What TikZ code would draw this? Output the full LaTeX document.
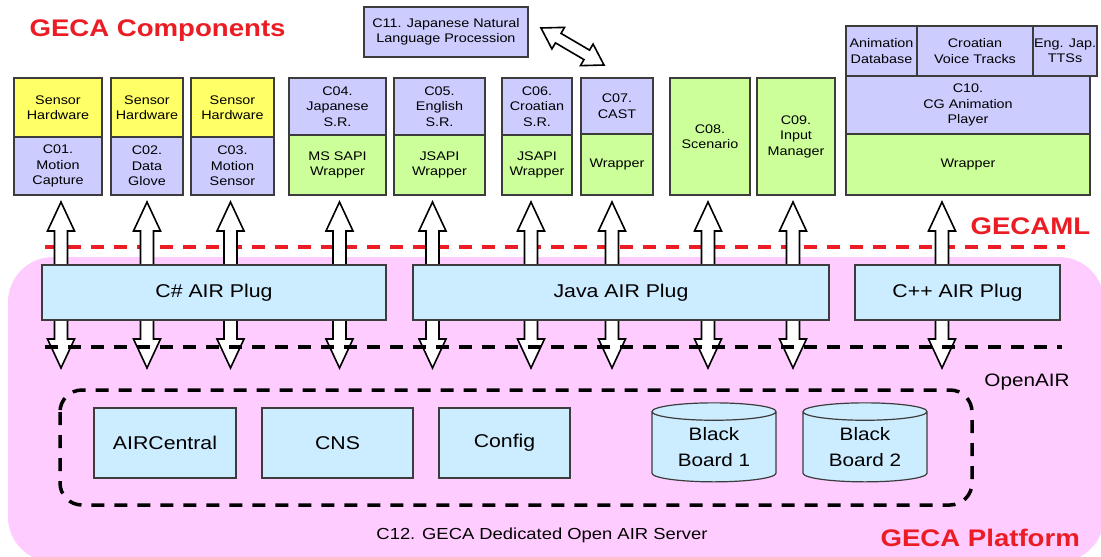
\documentclass[tikz,border=0pt]{standalone}
\usepackage{fontspec}
\setmainfont[FakeStretch=1.15]{Liberation Sans}
\usetikzlibrary{positioning,calc,shapes.geometric}

\definecolor{lavbox}{RGB}{204,204,255}
\definecolor{yelbox}{RGB}{255,255,102}
\definecolor{grnbox}{RGB}{204,255,153}
\definecolor{plugblue}{RGB}{204,236,255}
\definecolor{platpink}{RGB}{255,204,255}
\definecolor{gecared}{RGB}{235,28,36}
\definecolor{edge}{RGB}{60,60,60}

\tikzset{
  comp/.style={draw=edge, line width=1.2pt, inner sep=1pt, outer sep=0pt, align=center,
    font=\fontsize{12.5}{15.5}\selectfont},
  yel/.style={comp, fill=yelbox},
  lav/.style={comp, fill=lavbox},
  grn/.style={comp, fill=grnbox},
  plug/.style={draw=edge, line width=1.2pt, fill=plugblue, outer sep=0pt,
    font=\fontsize{18.5}{22}\selectfont},
  store/.style={cylinder, shape border rotate=90, aspect=0.24, draw=edge, line width=1.2pt,
    fill=plugblue, align=center, inner sep=0pt, font=\fontsize{18}{26}\selectfont},
  heading/.style={text=gecared, font=\fontsize{24}{28}\selectfont\bfseries},
  % hollow block arrow: #1 head length, #2 half head width, #3 half shaft width
  airlink/.style n args={3}{draw=black, fill=white, line width=1.6pt, line join=miter,
    to path={
      -- ($(\tikztostart)!#1!(\tikztotarget)!#2!90:(\tikztotarget)$)
      -- ($(\tikztostart)!#1!(\tikztotarget)!#3!90:(\tikztotarget)$)
      -- ($(\tikztotarget)!#1!(\tikztostart)!#3!-90:(\tikztostart)$)
      -- ($(\tikztotarget)!#1!(\tikztostart)!#2!-90:(\tikztostart)$)
      -- (\tikztotarget)
      -- ($(\tikztotarget)!#1!(\tikztostart)!#2!90:(\tikztostart)$)
      -- ($(\tikztotarget)!#1!(\tikztostart)!#3!90:(\tikztostart)$)
      -- ($(\tikztostart)!#1!(\tikztotarget)!#3!-90:(\tikztotarget)$)
      -- ($(\tikztostart)!#1!(\tikztotarget)!#2!-90:(\tikztotarget)$)
      -- cycle}},
  layerdash/.style={line width=3.5pt, dash pattern=on 13pt off 10pt}
}

\begin{document}
\begin{tikzpicture}[x=1pt, y=-1pt]
  \useasboundingbox (0,0) rectangle (1101,557);

  % components
  \node[heading, anchor=west] (title) at (26,31) {GECA Components};
  \node[lav, minimum width=164, minimum height=50, anchor=north west] (c11) at (364,7)
    {C11. Japanese Natural\\Language Procession};

  \node[yel, minimum width=88, minimum height=59, anchor=north west] (c01h) at (14,78) {Sensor\\Hardware};
  \node[lav, minimum width=88, minimum height=58, below=0pt of c01h] (c01) {C01.\\Motion\\Capture};
  \node[yel, minimum width=72, minimum height=59, anchor=north west] (c02h) at (111,78) {Sensor\\Hardware};
  \node[lav, minimum width=72, minimum height=58, below=0pt of c02h] (c02) {C02.\\Data\\Glove};
  \node[yel, minimum width=83, minimum height=59, anchor=north west] (c03h) at (191,78) {Sensor\\Hardware};
  \node[lav, minimum width=83, minimum height=58, below=0pt of c03h] (c03) {C03.\\Motion\\Sensor};

  \node[lav, minimum width=97, minimum height=57, anchor=north west] (c04h) at (289,78) {C04.\\Japanese\\S.R.};
  \node[grn, minimum width=97, minimum height=60, below=0pt of c04h] (c04) {MS SAPI\\Wrapper};
  \node[lav, minimum width=91, minimum height=57, anchor=north west] (c05h) at (394,78) {C05.\\English\\S.R.};
  \node[grn, minimum width=91, minimum height=60, below=0pt of c05h] (c05) {JSAPI\\Wrapper};
  \node[lav, minimum width=70, minimum height=57, anchor=north west] (c06h) at (502,78) {C06.\\Croatian\\S.R.};
  \node[grn, minimum width=70, minimum height=60, below=0pt of c06h] (c06) {JSAPI\\Wrapper};
  \node[lav, minimum width=72, minimum height=56, anchor=north west] (c07h) at (581,78) {C07.\\CAST};
  \node[grn, minimum width=72, minimum height=61, below=0pt of c07h] (c07) {Wrapper};

  \node[grn, minimum width=80, minimum height=117, anchor=north west] (c08) at (670,78) {C08.\\Scenario};
  \node[grn, minimum width=78, minimum height=117, anchor=north west] (c09) at (757,78) {C09.\\Input\\Manager};

  \node[lav, minimum width=71, minimum height=50, anchor=north west] (animdb) at (846,26) {Animation\\Database};
  \node[lav, minimum width=116, minimum height=50, right=0pt of animdb] (voice) {Croatian\\Voice Tracks};
  \node[lav, minimum width=57, minimum height=50, right=0pt of voice] (tts) {Eng. Jap.\\TTSs};
  \node[lav, minimum width=244, minimum height=58, anchor=north west] (c10) at (846,76) {C10.\\CG Animation\\Player};
  \node[grn, minimum width=244, minimum height=61, below=0pt of c10] (c10w) {Wrapper};

  % platform
  \fill[platpink, rounded corners=45pt] (8,257) rectangle (1104,562);
  \draw[layerdash, gecared] (45,247) -- (1065,247);
  \node[heading, anchor=west] (gecaml) at (967,226) {GECAML};

  \coordinate (tipline) at (0,368);
  \foreach \n/\dx in {c01/3, c02/0, c03/-2, c04/2, c05/-7, c06/-6, c07/-5, c08/-2, c09/-3, c10w/-26} {
    \coordinate (\n-t) at ([xshift=\dx, yshift=-7]\n.south);
    \coordinate (\n-b) at (\n-t |- tipline);
    \draw[airlink={29pt}{13.5pt}{6.5pt}] (\n-t) to (\n-b);
  }
  \coordinate (nlp-t) at ([xshift=13, yshift=4]c11.east);
  \coordinate (cast-t) at ([xshift=-13, yshift=13]c07h.north);
  \draw[airlink={20pt}{12.5pt}{5.5pt}] (nlp-t) to (cast-t);

  \node[plug, minimum width=344, minimum height=55, anchor=north west] (csplug) at (42,265) {C\# AIR Plug};
  \node[plug, minimum width=416, minimum height=55, anchor=north west] (javaplug) at (413,265) {Java AIR Plug};
  \node[plug, minimum width=205, minimum height=55, anchor=north west] (cppplug) at (855,265) {C++ AIR Plug};

  \draw[layerdash, black] (45,347) -- (1062,347);
  \node[font=\fontsize{18}{22}\selectfont] (openair) at (1027,382) {OpenAIR};

  % open air server
  \draw[layerdash, black, rounded corners=22pt] (60,390) rectangle (972,505);
  \node[plug, minimum width=142, minimum height=70, anchor=north west] (aircentral) at (94,408) {AIRCentral};
  \node[plug, minimum width=151, minimum height=70, anchor=north west] (cns) at (262,408) {CNS};
  \node[plug, minimum width=131, minimum height=70, anchor=north west] (config) at (439,408) {Config};
  \node[store, minimum width=124, minimum height=79] (bb1) at (714,447) {Black\\Board 1};
  \node[store, minimum width=124, minimum height=79] (bb2) at (865,447) {Black\\Board 2};

  \node[font=\fontsize{16}{20}\selectfont] (server) at (542,535) {C12. GECA Dedicated Open AIR Server};
  \node[heading, anchor=west] (platform) at (877,538) {GECA Platform};
\end{tikzpicture}
\end{document}
